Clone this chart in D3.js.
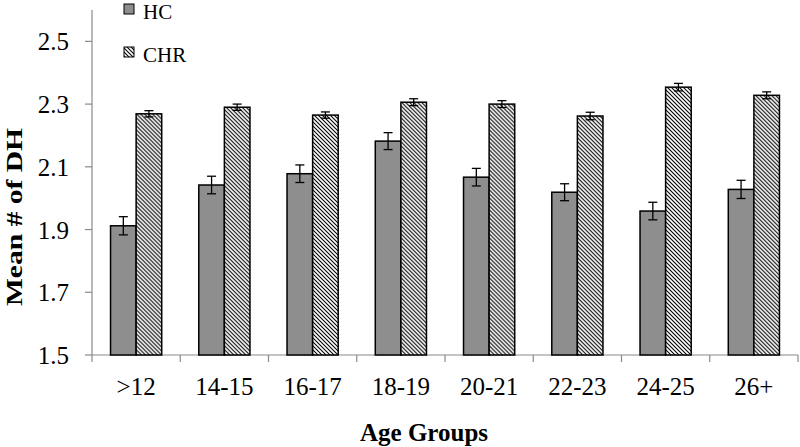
<!DOCTYPE html>
<html>
<head>
<meta charset="utf-8">
<script src="https://cdn.jsdelivr.net/npm/d3@7"></script>
<style>
  html, body { margin: 0; padding: 0; background: #fff; }
  svg { display: block; }
  text { font-family: "Liberation Serif", "Times New Roman", serif; fill: #000; }
</style>
</head>
<body>
<svg id="chart" width="800" height="447"></svg>
<script>
const categories = [">12", "14-15", "16-17", "18-19", "20-21", "22-23", "24-25", "26+"];
const seriesNames = ["HC", "CHR"];
const hcValues  = [1.912, 2.042, 2.078, 2.182, 2.067, 2.019, 1.959, 2.028];
const hcErrors  = [0.029, 0.028, 0.028, 0.027, 0.028, 0.027, 0.028, 0.029];
const chrValues = [2.269, 2.290, 2.265, 2.306, 2.300, 2.262, 2.354, 2.328];
const chrErrors = [0.010, 0.010, 0.010, 0.011, 0.011, 0.012, 0.012, 0.011];
const yTicks = [1.5, 1.7, 1.9, 2.1, 2.3, 2.5];
const xTitle = "Age Groups";
const yTitle = "Mean # of DH";

(function () {
const svg = d3.select("#chart");
const pLeft = 92, pRight = 798, pTop = 10, pBottom = 355;

const x = d3.scaleBand().domain(categories).range([pLeft, pRight]).paddingInner(0).paddingOuter(0);
const y = d3.scaleLinear().domain([1.5, 2.6]).range([pBottom, pTop]);
const groupW = x.bandwidth() * 0.58;
const xs = d3.scaleBand().domain(seriesNames).range([0, groupW]);

const defs = svg.append("defs");
const pat = defs.append("pattern").attr("id", "hatch").attr("patternUnits", "userSpaceOnUse")
  .attr("width", 4).attr("height", 4);
pat.append("rect").attr("width", 4).attr("height", 4).attr("fill", "#fff");
pat.append("path").attr("d", "M-1,-1 L5,5 M-1,3 L1,5 M3,-1 L5,1")
  .attr("stroke", "#000").attr("stroke-width", 1.1);

const fills = { HC: "#8e8e8e", CHR: "url(#hatch)" };

const data = categories.map((c, i) => ({
  cat: c,
  vals: [
    { s: "HC", v: hcValues[i], e: hcErrors[i] },
    { s: "CHR", v: chrValues[i], e: chrErrors[i] }
  ]
}));

// Axes
const axisColor = "#8a8a8a";
svg.append("line").attr("x1", pLeft).attr("x2", pLeft).attr("y1", pTop).attr("y2", pBottom)
  .attr("stroke", axisColor).attr("stroke-width", 1.2);
svg.append("line").attr("x1", pLeft).attr("x2", pRight).attr("y1", pBottom).attr("y2", pBottom)
  .attr("stroke", axisColor).attr("stroke-width", 1.2);

yTicks.forEach(t => {
  svg.append("line").attr("x1", pLeft - 7).attr("x2", pLeft).attr("y1", y(t)).attr("y2", y(t))
    .attr("stroke", axisColor).attr("stroke-width", 1.2);
  svg.append("text").attr("x", 69).attr("y", y(t) + 9).attr("text-anchor", "end")
    .attr("font-size", 25).text(d3.format(".1f")(t));
});

const boundaries = categories.map(c => x(c)).concat([pRight]);
boundaries.forEach(b => {
  svg.append("line").attr("x1", b).attr("x2", b).attr("y1", pBottom).attr("y2", pBottom + 7)
    .attr("stroke", axisColor).attr("stroke-width", 1.2);
});

categories.forEach(c => {
  svg.append("text").attr("x", x(c) + x.bandwidth() / 2).attr("y", 395)
    .attr("text-anchor", "middle").attr("font-size", 25).text(c);
});

// Bars
const groups = svg.selectAll("g.grp").data(data).join("g").attr("class", "grp")
  .attr("transform", d => `translate(${x(d.cat) + (x.bandwidth() - groupW) / 2},0)`);

groups.selectAll("rect").data(d => d.vals).join("rect")
  .attr("x", d => xs(d.s))
  .attr("y", d => y(d.v))
  .attr("width", xs.bandwidth())
  .attr("height", d => y(1.5) - y(d.v))
  .attr("fill", d => fills[d.s])
  .attr("stroke", "#000").attr("stroke-width", 1.5);

// Error bars
groups.selectAll("g.err").data(d => d.vals).join("g").attr("class", "err").each(function(d) {
  const g = d3.select(this);
  const cx = xs(d.s) + xs.bandwidth() / 2;
  const capW = 4.5;
  g.append("line").attr("x1", cx).attr("x2", cx).attr("y1", y(d.v + d.e)).attr("y2", y(d.v - d.e))
    .attr("stroke", "#000").attr("stroke-width", 1.3);
  [d.v + d.e, d.v - d.e].forEach(v => {
    g.append("line").attr("x1", cx - capW).attr("x2", cx + capW).attr("y1", y(v)).attr("y2", y(v))
      .attr("stroke", "#000").attr("stroke-width", 1.3);
  });
});

// Legend
const legend = [{ s: "HC", y: 4 }, { s: "CHR", y: 47 }];
legend.forEach(l => {
  svg.append("rect").attr("x", 124).attr("y", l.y).attr("width", 10).attr("height", 10)
    .attr("fill", fills[l.s]).attr("stroke", "#000").attr("stroke-width", 1);
  svg.append("text").attr("x", 143).attr("y", l.y + 15).attr("font-size", 21).text(l.s);
});

// Titles
svg.append("text").attr("x", 424).attr("y", 441).attr("text-anchor", "middle")
  .attr("font-size", 25).attr("font-weight", "bold").text(xTitle);
svg.append("text").attr("transform", "translate(22,217) rotate(-90)").attr("text-anchor", "middle")
  .attr("font-size", 24).attr("font-weight", "bold")
  .attr("textLength", 178).attr("lengthAdjust", "spacingAndGlyphs").text(yTitle);
})();
</script>
</body>
</html>
